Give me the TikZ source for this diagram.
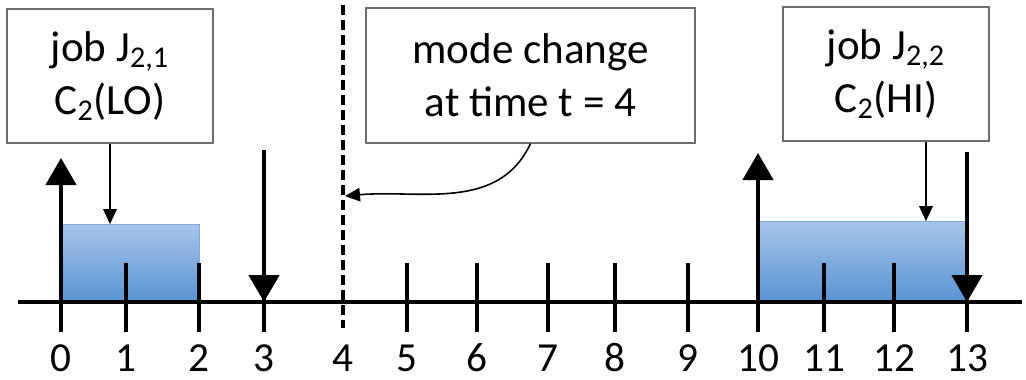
\documentclass[tikz,border=0pt]{standalone}
\usepackage{fontspec}
\setmainfont{Carlito}
\definecolor{RunTop}{HTML}{A7C5E9}
\definecolor{RunBot}{HTML}{5893D3}
\definecolor{RunEdge}{HTML}{7EAADF}
\definecolor{NoteEdge}{HTML}{6E6E6E}
\usetikzlibrary{arrows.meta,positioning,calc}

\begin{document}
\begin{tikzpicture}[
    note/.style={draw=NoteEdge,line width=0.6pt,fill=white,align=center,
                 font=\fontsize{24.5}{30}\selectfont,inner sep=0pt},
    run/.style={draw=RunEdge,line width=0.5pt,top color=RunTop,bottom color=RunBot,
                anchor=south west,inner sep=0pt},
    tick/.style={line width=2pt},
    big/.style={-{Triangle[width=0.6cm,length=0.54cm]},line width=2.6pt},
    thin/.style={-{Triangle[width=0.27cm,length=0.3cm]},line width=0.9pt},
    num/.style={font=\fontsize{23.5}{26}\selectfont,inner sep=0pt}]
  \useasboundingbox (-1.22,-1.54) rectangle (19.30,6.04);
  % time instants on the axis
  \foreach \t/\x in {0/0,1/1.30,2/2.76,3/4.06,4/5.64,5/6.92,6/8.32,7/9.74,
                     8/11.08,9/12.54,10/13.94,11/15.26,12/16.66,13/18.12}
    \coordinate (t\t) at (\x,0);
  \coordinate (axL) at (-0.86,0);
  \coordinate (axR) at (19.22,0);
  % execution of the two jobs
  \node[run,minimum width=2.76cm,minimum height=1.54cm] (run1) at (t0) {};
  \node[run,minimum width=4.16cm,minimum height=1.60cm] (run2) at (t10) {};
  \draw[line width=2.4pt] (axL) -- (axR);
  \foreach \t in {0,1,2,3,5,6,7,8,9,10,11,12,13}
    \draw[tick] ([yshift=0.78cm]t\t) -- ([yshift=-0.6cm]t\t);
  \foreach \t in {0,...,13}
    \node[num] (n\t) at ([yshift=-1.12cm]t\t) {\t};
  % releases and deadlines
  \draw[big] ([yshift=-0.6cm]t0) -- ([yshift=2.88cm]t0);
  \draw[big] ([yshift=3.04cm]t3) -- (t3);
  \draw[big] ([yshift=-0.6cm]t10) -- ([yshift=2.98cm]t10);
  \draw[big] ([yshift=3.0cm]t13) -- (t13);
  % mode change
  \draw[line width=1.8pt,dash pattern=on 0.2cm off 0.1cm]
    ([yshift=5.94cm]t4) -- ([yshift=-0.52cm]t4);
  \coordinate (mc) at ([xshift=0.04cm,yshift=2.12cm]t4);
  \node[note,minimum width=4.12cm,minimum height=2.68cm] (lojob) at (0.98,4.52)
    {job J\textsubscript{2,1}\\C\textsubscript{2}(LO)};
  \node[note,minimum width=6.58cm,minimum height=2.70cm] (mode) at (9.39,4.53)
    {mode change\\at time t = 4};
  \node[note,minimum width=4.12cm,minimum height=2.68cm] (hijob) at (16.5,4.56)
    {job J\textsubscript{2,2}\\C\textsubscript{2}(HI)};
  \draw[thin] (lojob.south) -- (lojob.south |- run1.north);
  \draw[thin] ([xshift=0.8cm]hijob.south) -- ([xshift=0.8cm]hijob.south |- run2.north);
  \draw[thin] (mode.south) to[out=-115,in=5] (mc);
\end{tikzpicture}
\end{document}
